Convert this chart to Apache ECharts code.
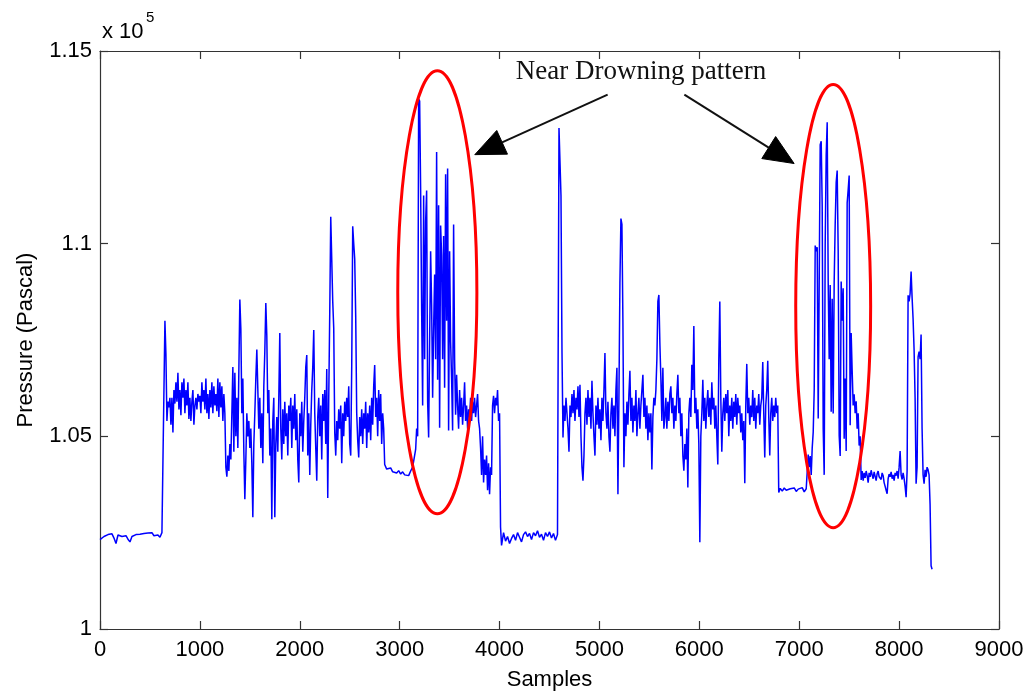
<!DOCTYPE html>
<html>
<head>
<meta charset="utf-8">
<script src="https://cdn.jsdelivr.net/npm/echarts@6/dist/echarts.min.js"></script>
<style>
html,body{margin:0;padding:0;background:#fff;}
#chart{width:1028px;height:696px;}
</style>
</head>
<body>
<div id="chart"></div>
<script>
// Pressure values in units of 1e5 Pa, sampled along "Samples"
const baseA = [1.0232,1.0236,1.0240,1.0238,1.0245,1.0241,1.0247,1.0236,1.0222,1.0244,1.0248,1.0240,1.0237,1.0242,1.0233,1.0226,1.0240,1.0243,1.0245,1.0241,1.0246,1.0243,1.0248,1.0244,1.0249,1.0245,1.0250,1.0242,1.0247,1.0244,1.0238,1.0250,1.0255];
const activeB = [
1.0800,1.0712,1.0540,1.0590,1.0575,1.0600,1.0530,1.0600,1.0510,1.0620,
1.0585,1.0640,1.0590,1.0665,1.0570,1.0620,1.0555,1.0640,1.0600,1.0650,
1.0560,1.0620,1.0580,1.0640,1.0545,1.0600,1.0540,1.0590,1.0620,1.0530,
1.0580,1.0600,1.0570,1.0610,1.0590,1.0605,1.0560,1.0640,1.0590,1.0620,
1.0570,1.0650,1.0560,1.0610,1.0545,1.0620,1.0575,1.0640,1.0560,1.0630,
1.0580,1.0610,1.0565,1.0650,1.0550,1.0640,1.0575,1.0630,1.0540,1.0610,
1.0560,1.0420,1.0395,1.0450,1.0410,1.0480,1.0440,1.0560,1.0680,1.0460,
1.0665,1.0500,1.0600,1.0470,1.0670,1.0855,1.0780,1.0560,1.0650,1.0460,
1.0337,1.0440,1.0560,1.0500,1.0540,1.0470,1.0520,1.0430,1.0290,1.0480,
1.0560,1.0650,1.0725,1.0730,1.0520,1.0600,1.0470,1.0560,1.0430,1.0630,
1.0720,1.0846,1.0760,1.0560,1.0620,1.0450,1.0520,1.0285,1.0540,1.0600,
1.0290,1.0480,1.0550,1.0460,1.0600,1.0768,1.0520,1.0440,1.0570,1.0480,
1.0590,1.0500,1.0560,1.0450,1.0580,1.0540,1.0600,1.0470,1.0580,1.0520,
1.0610,1.0490,1.0570,1.0440,1.0380,1.0560,1.0500,1.0590,1.0460,1.0540,
1.0600,1.0680,1.0711,1.0450,1.0560,1.0400,1.0530,1.0620,1.0680,1.0776,
1.0560,1.0470,1.0385,1.0550,1.0600,1.0500,1.0580,1.0440,1.0610,1.0540,
1.0620,1.0480,1.0675,1.0340,1.0600,1.0820,1.1070,1.1070,1.0850,1.0780,
1.0510,1.0450,1.0540,1.0490,1.0570,1.0520,1.0580,1.0430,1.0560,1.0500,
1.0590,1.0540,1.0600,1.0550,1.0630,1.0480,1.0450,1.0680,1.1045,1.1000,
1.0960,1.0810,1.0560,1.0490,1.0445,1.0550,1.0500,1.0570,1.0480,1.0560,
1.0520,1.0590,1.0470,1.0560,1.0510,1.0580,1.0490,1.0600,1.0530,1.0630,
1.0685,1.0550,1.0600,1.0500,1.0620,1.0540,1.0610,1.0480,1.0560,1.0520,
1.0427];
const flatC = [1.0415,1.0410,1.0418,1.0408,1.0412,1.0405,1.0411,1.0402,1.0408,1.0400,1.0404,1.0398,1.0410,1.0420];
const drownD = [
1.0420,1.0466,1.0520,1.0500,1.1376,1.1370,1.1138,1.0830,1.0580,1.1125,
1.0700,1.1058,1.1138,1.0590,1.0497,1.0750,1.0980,1.0840,1.0600,1.0780,
1.0920,1.0700,1.1238,1.0647,1.1100,1.0522,1.1047,1.0970,1.0700,1.1020,
1.0626,1.1180,1.0800,1.1195,1.0515,1.0980,1.0747,1.0650,1.0515,1.1050,
1.0700,1.0556,1.0660,1.0580,1.0520,1.0620,1.0550,1.0600,1.0530,1.0580,
1.0640,1.0540,1.0580,1.0520,1.0570,1.0550,1.0600,1.0540,1.0590,1.0560,
1.0600,1.0550,1.0580,1.0610,1.0540,1.0520,1.0470,1.0400,1.0500,1.0380,
1.0440,1.0400,1.0450,1.0360,1.0430,1.0350,1.0420,1.0400,1.0580,1.0605,
1.0560,1.0600,1.0580,1.0620,1.0540,1.0560,1.0264];
const baseE = [1.0217,1.0250,1.0228,1.0240,1.0222,1.0235,1.0245,1.0230,1.0250,1.0238,1.0226,1.0245,1.0252,1.0240,1.0248,1.0232,1.0250,1.0242,1.0255,1.0238,1.0246,1.0230,1.0250,1.0240,1.0252,1.0236,1.0248,1.0230,1.0245];
const activeF = [
1.1300,1.1300,1.1125,1.0720,1.0497,1.0580,1.0540,1.0600,1.0560,1.0520,
1.0460,1.0580,1.0550,1.0610,1.0560,1.0620,1.0540,1.0600,1.0570,1.0630,
1.0550,1.0634,1.0500,1.0420,1.0385,1.0450,1.0560,1.0600,1.0530,1.0620,
1.0550,1.0600,1.0520,1.0644,1.0560,1.0500,1.0450,1.0580,1.0530,1.0600,
1.0520,1.0570,1.0490,1.0600,1.0540,1.0620,1.0716,1.0560,1.0520,1.0590,
1.0500,1.0460,1.0560,1.0600,1.0520,1.0580,1.0500,1.0620,1.0678,1.0350,
1.0600,1.0900,1.1065,1.1050,1.0794,1.0420,1.0560,1.0500,1.0590,1.0530,
1.0610,1.0670,1.0540,1.0600,1.0510,1.0580,1.0540,1.0620,1.0500,1.0560,
1.0600,1.0520,1.0580,1.0620,1.0660,1.0550,1.0600,1.0520,1.0580,1.0490,
1.0560,1.0510,1.0560,1.0414,1.0550,1.0600,1.0580,1.0620,1.0700,1.0850,
1.0867,1.0740,1.0650,1.0540,1.0678,1.0520,1.0550,1.0600,1.0520,1.0590,
1.0540,1.0610,1.0630,1.0560,1.0600,1.0520,1.0580,1.0540,1.0610,1.0660,
1.0560,1.0600,1.0500,1.0560,1.0450,1.0411,1.0480,1.0440,1.0520,1.0367,
1.0560,1.0600,1.0550,1.0686,1.0620,1.0786,1.0560,1.0600,1.0520,1.0570,
1.0480,1.0225,1.0500,1.0560,1.0647,1.0540,1.0600,1.0520,1.0580,1.0620,
1.0550,1.0600,1.0530,1.0640,1.0570,1.0600,1.0520,1.0580,1.0500,1.0427,
1.0700,1.0850,1.0600,1.0460,1.0560,1.0600,1.0540,1.0610,1.0560,1.0620,
1.0500,1.0580,1.0540,1.0600,1.0520,1.0590,1.0550,1.0610,1.0530,1.0600,
1.0560,1.0580,1.0510,1.0560,1.0490,1.0540,1.0378,1.0580,1.0688,1.0560,
1.0600,1.0530,1.0580,1.0550,1.0620,1.0540,1.0600,1.0520,1.0580,1.0560,
1.0610,1.0530,1.0580,1.0600,1.0693,1.0560,1.0445,1.0580,1.0620,1.0696,
1.0550,1.0450,1.0560,1.0600,1.0540,1.0580,1.0550,1.0600,1.0560,1.0580,
1.0354];
const flatG = [1.0365,1.0358,1.0366,1.0360,1.0355,1.0364,1.0359,1.0366,1.0357,1.0363,1.0360,1.0367,1.0356,1.0364];
const drownH = [
1.0453,1.0420,1.0449,1.0400,1.0470,1.0511,1.0620,1.0995,1.0980,1.0991,
1.0546,1.0900,1.1257,1.1266,1.1097,1.0520,1.0400,1.1000,1.1231,1.1315,
1.0902,1.0700,1.0893,1.0564,1.0857,1.0559,1.0902,1.1050,1.1159,1.1190,
1.0982,1.0502,1.0449,1.0902,1.0800,1.0884,1.0494,1.0650,1.0462,1.1106,
1.1140,1.1177,1.0529,1.0768,1.0671,1.0580,1.0609,1.0560,1.0591,1.0520,
1.0560,1.0476,1.0500,1.0387];
const tailI = [
1.0410,1.0385,1.0405,1.0392,1.0410,1.0398,1.0380,1.0405,1.0395,1.0412,
1.0400,1.0390,1.0408,1.0396,1.0385,1.0403,1.0410,1.0395,1.0400,1.0388,
1.0405,1.0398,1.0380,1.0370,1.0360,1.0351,1.0390,1.0402,1.0395,1.0408,
1.0390,1.0400,1.0385,1.0405,1.0398,1.0410,1.0390,1.0420,1.0462,1.0400,
1.0388,1.0405,1.0390,1.0370,1.0342,1.0410,1.0866,1.0850,1.0870,1.0928,
1.0860,1.0804,1.0724,1.0600,1.0377,1.0420,1.0706,1.0720,1.0700,1.0764,
1.0520,1.0400,1.0377,1.0413,1.0395,1.0420,1.0413,1.0400,1.0324,1.0164,
1.0155];

// first sample index and sample spacing of each recorded stretch
const segments = [
  {start: 0,    step: 20, values: baseA},
  {start: 650,  step: 10, values: activeB},
  {start: 2870, step: 20, values: flatC},
  {start: 3150, step: 10, values: drownD},
  {start: 4020, step: 20, values: baseE},
  {start: 4595, step: 10, values: activeF},
  {start: 6810, step: 20, values: flatG},
  {start: 7090, step: 10, values: drownH},
  {start: 7630, step: 10, values: tailI}
];

const xTicks = [0,1000,2000,3000,4000,5000,6000,7000,8000,9000];
const yTicks = [1, 1.05, 1.1, 1.15];

// annotations in data coordinates
const ellipses = [
  {cx: 3377, cy: 1.0874, rx: 396, ry: 0.0575},
  {cx: 7340, cy: 1.0838, rx: 375, ry: 0.0575}
];
const arrows = [
  {from: [5082, 1.1387], to: [3752, 1.1231]},
  {from: [5850, 1.1387], to: [6949, 1.1208]}
];
const annotationText = {text: 'Near Drowning pattern', at: [5416, 1.1446]};

const samples = [];
segments.forEach(s => s.values.forEach((v, i) => samples.push([s.start + i * s.step, v])));

const FONT = '"Liberation Sans", Arial, Helvetica, sans-serif';
const AX = '#333333';

const chart = echarts.init(document.getElementById('chart'), null, {renderer: 'canvas'});

const yFmt = v => String(parseFloat(v.toFixed(2)));
const xFmt = v => String(Math.round(v));

const baseX = {
  type: 'value', min: xTicks[0], max: xTicks[xTicks.length - 1], interval: xTicks[1] - xTicks[0],
  axisLine: {show: true, onZero: false, lineStyle: {color: AX, width: 1.2}},
  axisTick: {show: true, inside: true, length: 8, lineStyle: {color: AX, width: 1.2}},
  splitLine: {show: false}
};
const baseY = {
  type: 'value', min: yTicks[0], max: yTicks[yTicks.length - 1], interval: 0.05,
  axisLine: {show: true, onZero: false, lineStyle: {color: AX, width: 1.2}},
  axisTick: {show: true, inside: true, length: 8, lineStyle: {color: AX, width: 1.2}},
  splitLine: {show: false}
};

chart.setOption({
  animation: false,
  backgroundColor: '#ffffff',
  grid: {left: 100, right: 29, top: 51, bottom: 64, containLabel: false},
  xAxis: [
    Object.assign({}, baseX, {
      position: 'bottom',
      name: 'Samples', nameLocation: 'middle', nameGap: 40,
      nameTextStyle: {fontFamily: FONT, fontSize: 22, color: '#000'},
      axisLabel: {show: true, margin: 10, fontFamily: FONT, fontSize: 22, color: '#000', formatter: xFmt}
    }),
    Object.assign({}, baseX, {position: 'top', axisLabel: {show: false}})
  ],
  yAxis: [
    Object.assign({}, baseY, {
      position: 'left',
      name: 'Pressure (Pascal)', nameLocation: 'middle', nameGap: 63,
      nameTextStyle: {fontFamily: FONT, fontSize: 22, color: '#000'},
      axisLabel: {show: true, margin: 8, fontFamily: FONT, fontSize: 22, color: '#000', formatter: yFmt}
    }),
    Object.assign({}, baseY, {position: 'right', axisLabel: {show: false}})
  ],
  series: [{
    type: 'line',
    xAxisIndex: 0, yAxisIndex: 0,
    data: samples,
    showSymbol: false,
    symbol: 'none',
    sampling: null,
    lineStyle: {color: '#0000ff', width: 1.5},
    itemStyle: {color: '#0000ff'},
    z: 2
  }]
});

function px(p) { return chart.convertToPixel({xAxisIndex: 0, yAxisIndex: 0}, p); }

const g = [];
ellipses.forEach(e => {
  const c = px([e.cx, e.cy]);
  const r = px([e.cx + e.rx, e.cy + e.ry]);
  g.push({type: 'ellipse', z: 100,
    shape: {cx: c[0], cy: c[1], rx: Math.abs(r[0] - c[0]), ry: Math.abs(c[1] - r[1])},
    style: {fill: null, stroke: '#ff0000', lineWidth: 3}});
});
arrows.forEach(a => {
  const s = px(a.from), t = px(a.to);
  const dx = t[0] - s[0], dy = t[1] - s[1], len = Math.hypot(dx, dy);
  const ux = dx / len, uy = dy / len, nx = -uy, ny = ux;
  const L = 30, W = 13;
  const bx = t[0] - ux * L, by = t[1] - uy * L;
  g.push({type: 'line', z: 100, shape: {x1: s[0], y1: s[1], x2: bx, y2: by},
    style: {stroke: '#111', lineWidth: 2}});
  g.push({type: 'polygon', z: 100,
    shape: {points: [[t[0], t[1]], [bx + nx * W, by + ny * W], [bx - nx * W, by - ny * W]]},
    style: {fill: '#000', stroke: '#000', lineWidth: 1}});
});
const tp = px(annotationText.at);
g.push({type: 'text', z: 100, x: tp[0], y: tp[1],
  style: {text: annotationText.text, font: '27px "Liberation Serif", "Times New Roman", serif',
    fill: '#111', textAlign: 'center', textVerticalAlign: 'middle'}});
// exponent label of the y axis
g.push({type: 'text', z: 100, x: 102, y: 31.5,
  style: {text: 'x 10', font: '22px ' + FONT, fill: '#000', textAlign: 'left', textVerticalAlign: 'middle'}});
g.push({type: 'text', z: 100, x: 146, y: 17.5,
  style: {text: '5', font: '15px ' + FONT, fill: '#000', textAlign: 'left', textVerticalAlign: 'middle'}});

chart.setOption({graphic: g});
</script>
</body>
</html>
